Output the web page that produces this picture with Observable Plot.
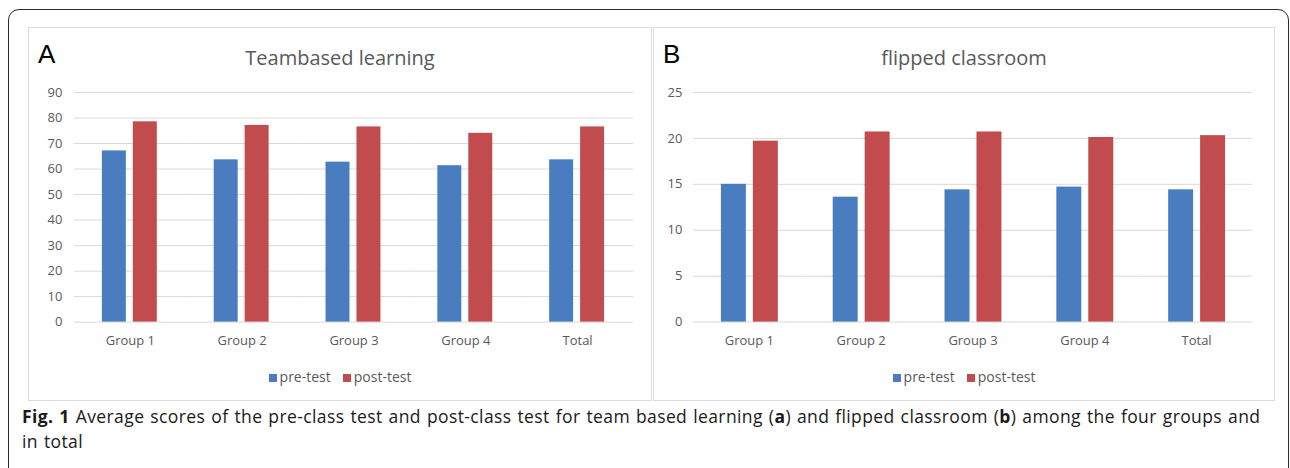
<!DOCTYPE html>
<html><head><meta charset="utf-8">
<script src="https://cdn.jsdelivr.net/npm/d3@7"></script>
<script src="https://cdn.jsdelivr.net/npm/@observablehq/plot@0.6"></script>
<style>
body{margin:0;width:1290px;height:468px;overflow:hidden;background:#fff;font-family:"Open Sans",sans-serif;position:relative}
#frame{position:absolute;left:8px;top:9px;width:1281px;height:520px;border:1.5px solid #2a2a2a;border-radius:11px;box-sizing:border-box}
.panel{position:absolute;top:27px;height:374px;border:1px solid #dcdcdc;box-sizing:border-box;background:#fff}
.letter{position:absolute;left:9px;top:13px;font-family:"Liberation Sans",Arial,sans-serif;font-size:26px;line-height:26px;color:#000}
.title{position:absolute;left:0;right:0;top:16px;text-align:center;font-size:20px;line-height:27px;color:#595959}
.plot{position:absolute;left:-1px;top:51px}
.legend{position:absolute;left:0;right:0;top:339px;text-align:center;font-size:14px;line-height:19px;color:#595959}
.legend .sw{display:inline-block;width:8px;height:8px;margin-right:3px;vertical-align:0px}
.legend .item{margin:0 6px}
#caption{position:absolute;left:22px;top:404px;font-size:17.5px;line-height:25px;letter-spacing:0.4px;word-spacing:1px;color:#1a1a1a;white-space:nowrap}
</style></head>
<body>
<div id="frame"></div>
<div class="panel" id="pA" style="left:28px;width:624px">
  <div class="letter">A</div>
  <div class="title">Teambased learning</div>
  <div class="plot" id="plotA"></div>
  <div class="legend" id="legA"></div>
</div>
<div class="panel" id="pB" style="left:653px;width:622px">
  <div class="letter">B</div>
  <div class="title">flipped classroom</div>
  <div class="plot" id="plotB"></div>
  <div class="legend" id="legB"></div>
</div>
<div id="caption"><b>Fig. 1</b> Average scores of the pre-class test and post-class test for team based learning (<b>a</b>) and flipped classroom (<b>b</b>) among the four groups and<br>in total</div>
<script>
const groups = ["Group 1", "Group 2", "Group 3", "Group 4", "Total"];
const series = ["pre-test", "post-test"];
const colors = ["#4a7dc0", "#c14b4d"];

const teamPre  = [67.1, 63.6, 62.7, 61.3, 63.6];
const teamPost = [78.5, 77.1, 76.5, 74.0, 76.5];
const flipPre  = [15.0, 13.6, 14.4, 14.7, 14.4];
const flipPost = [19.7, 20.7, 20.7, 20.1, 20.3];

const yTicksA = [0, 10, 20, 30, 40, 50, 60, 70, 80, 90];
const yTicksB = [0, 5, 10, 15, 20, 25];

function rows(pre, post) {
  const out = [];
  groups.forEach((g, i) => {
    out.push({group: g, series: series[0], value: pre[i]});
    out.push({group: g, series: series[1], value: post[i]});
  });
  return out;
}

function chart(data, ticks, opts) {
  return Plot.plot({
    width: opts.width,
    height: 273,
    marginLeft: opts.ml,
    marginRight: opts.mr,
    marginTop: 13,
    marginBottom: 30,
    style: {fontFamily: "'Open Sans', sans-serif", fontSize: "13px", color: "#595959", background: "transparent"},
    fx: {domain: groups, padding: 0, label: null},
    x: {domain: series, paddingInner: 0.22, paddingOuter: opts.po, axis: null},
    y: {domain: [ticks[0], ticks[ticks.length - 1]], axis: null},
    color: {domain: series, range: colors},
    marks: [
      Plot.gridY(ticks, {stroke: "#d9d9d9", strokeOpacity: 1}),
      Plot.axisY(ticks, {tickSize: 0, tickPadding: opts.tp, label: null}),
      Plot.barY(data, {fx: "group", x: "series", y: "value", fill: "series"}),
      Plot.axisFx({anchor: "bottom", tickSize: 0, tickPadding: 14, label: null})
    ]
  });
}

document.getElementById("plotA").appendChild(
  chart(rows(teamPre, teamPost), yTicksA, {width: 624, ml: 45, mr: 17, po: 0.87, tp: 12}));
document.getElementById("plotB").appendChild(
  chart(rows(flipPre, flipPost), yTicksB, {width: 622, ml: 38, mr: 21, po: 0.84, tp: 11}));

function legend(el) {
  el.innerHTML = series.map((s, i) =>
    `<span class="item"><span class="sw" style="background:${colors[i]}"></span>${s}</span>`).join("");
}
legend(document.getElementById("legA"));
legend(document.getElementById("legB"));
</script>
</body></html>
